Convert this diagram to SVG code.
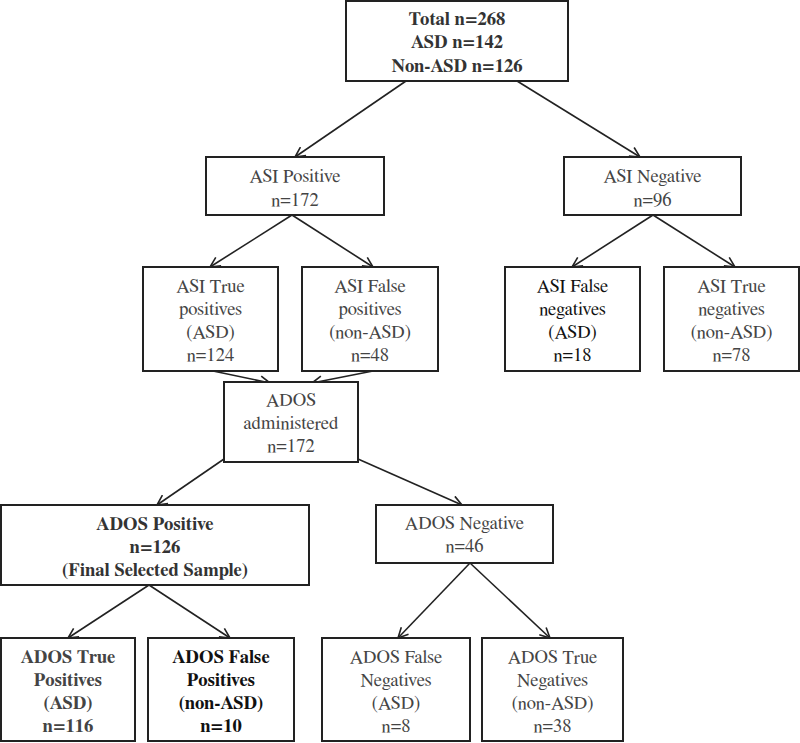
<svg xmlns="http://www.w3.org/2000/svg" width="800" height="743" viewBox="0 0 800 743">
<defs>
<marker id="arr" viewBox="0 0 12 12" refX="11" refY="6" markerWidth="12" markerHeight="12" markerUnits="userSpaceOnUse" orient="auto">
<path d="M1,1 L11,6 L1,11" fill="none" stroke="#222" stroke-width="1.6"/>
</marker>
<style>
.box{fill:#fff;stroke:#222;stroke-width:2}
text{font-family:'FreeSerif','Liberation Serif','DejaVu Serif Condensed',serif;font-size:18.6px;fill:#444;text-anchor:middle}
.b{font-weight:bold;fill:#333}
.k{fill:#111}
.g{fill:#444}
.c line{stroke:#222;stroke-width:1.6;marker-end:url(#arr)}
</style>
</defs>
<rect width="800" height="743" fill="#fff"/>
<g class="c" id="connectors">
<line x1="406" y1="81" x2="295" y2="157"/>
<line x1="517" y1="81" x2="640" y2="157"/>
<line x1="292" y1="215" x2="210" y2="267"/>
<line x1="292" y1="215" x2="373" y2="267"/>
<line x1="653" y1="215" x2="572" y2="267"/>
<line x1="653" y1="215" x2="735" y2="267"/>
<line x1="213" y1="371" x2="270" y2="383"/>
<line x1="373" y1="371" x2="312" y2="383"/>
<line x1="224" y1="459" x2="157" y2="505"/>
<line x1="358" y1="459" x2="462" y2="505"/>
<line x1="149" y1="585" x2="68" y2="638"/>
<line x1="149" y1="585" x2="230" y2="638"/>
<line x1="470" y1="563" x2="398" y2="638"/>
<line x1="470" y1="563" x2="550" y2="638"/>
</g>
<g id="total">
<rect class="box" x="346" y="1" width="222" height="80"/>
<text class="b" x="457" y="25">Total n=268</text>
<text class="b" x="457" y="48">ASD n=142</text>
<text class="b" x="457" y="72">Non-ASD n=126</text>
</g>
<g id="asi-pos">
<rect class="box" x="206" y="157" width="178" height="58"/>
<text x="295" y="182">ASI Positive</text>
<text x="295" y="206">n=172</text>
</g>
<g id="asi-neg">
<rect class="box" x="564" y="157" width="177" height="58"/>
<text x="652.5" y="182">ASI Negative</text>
<text x="652.5" y="206">n=96</text>
</g>
<g id="asi-tp">
<rect class="box" x="143" y="267" width="135" height="104"/>
<text x="210.5" y="292">ASI True</text>
<text x="210.5" y="315">positives</text>
<text x="210.5" y="338">(ASD)</text>
<text x="210.5" y="361">n=124</text>
</g>
<g id="asi-fp">
<rect class="box" x="302" y="267" width="136" height="104"/>
<text x="370" y="292">ASI False</text>
<text x="370" y="315">positives</text>
<text x="370" y="338">(non-ASD)</text>
<text x="370" y="361">n=48</text>
</g>
<g id="asi-fn">
<rect class="box" x="505" y="267" width="135" height="104"/>
<text class="k" x="572.5" y="292">ASI False</text>
<text class="k" x="572.5" y="315">negatives</text>
<text class="k" x="572.5" y="338">(ASD)</text>
<text class="k" x="572.5" y="361">n=18</text>
</g>
<g id="asi-tn">
<rect class="box" x="664" y="267" width="135" height="104"/>
<text x="731.5" y="292">ASI True</text>
<text x="731.5" y="315">negatives</text>
<text x="731.5" y="338">(non-ASD)</text>
<text x="731.5" y="361">n=78</text>
</g>
<g id="ados-admin">
<rect class="box" x="224" y="382" width="134" height="80"/>
<text x="291" y="406">ADOS</text>
<text x="291" y="429">administered</text>
<text x="291" y="452">n=172</text>
</g>
<g id="ados-pos">
<rect class="box" x="1" y="505" width="308" height="80"/>
<text class="b" x="155" y="530">ADOS Positive</text>
<text class="b" x="155" y="553">n=126</text>
<text class="b" x="155" y="576">(Final Selected Sample)</text>
</g>
<g id="ados-neg">
<rect class="box" x="376" y="505" width="177" height="58"/>
<text x="464.5" y="529">ADOS Negative</text>
<text x="464.5" y="552">n=46</text>
</g>
<g id="ados-tp">
<rect class="box" x="1" y="638" width="134" height="103"/>
<text class="b g" x="68" y="663">ADOS True</text>
<text class="b g" x="68" y="686">Positives</text>
<text class="b g" x="68" y="709">(ASD)</text>
<text class="b g" x="68" y="732">n=116</text>
</g>
<g id="ados-fp">
<rect class="box" x="148" y="638" width="146" height="103"/>
<text class="b k" x="221" y="663">ADOS False</text>
<text class="b k" x="221" y="686">Positives</text>
<text class="b k" x="221" y="709">(non-ASD)</text>
<text class="b k" x="221" y="732">n=10</text>
</g>
<g id="ados-fn">
<rect class="box" x="322" y="638" width="148" height="103"/>
<text x="396" y="663">ADOS False</text>
<text x="396" y="686">Negatives</text>
<text x="396" y="709">(ASD)</text>
<text x="396" y="732">n=8</text>
</g>
<g id="ados-tn">
<rect class="box" x="482" y="638" width="141" height="103"/>
<text x="552.5" y="663">ADOS True</text>
<text x="552.5" y="686">Negatives</text>
<text x="552.5" y="709">(non-ASD)</text>
<text x="552.5" y="732">n=38</text>
</g>
</svg>
